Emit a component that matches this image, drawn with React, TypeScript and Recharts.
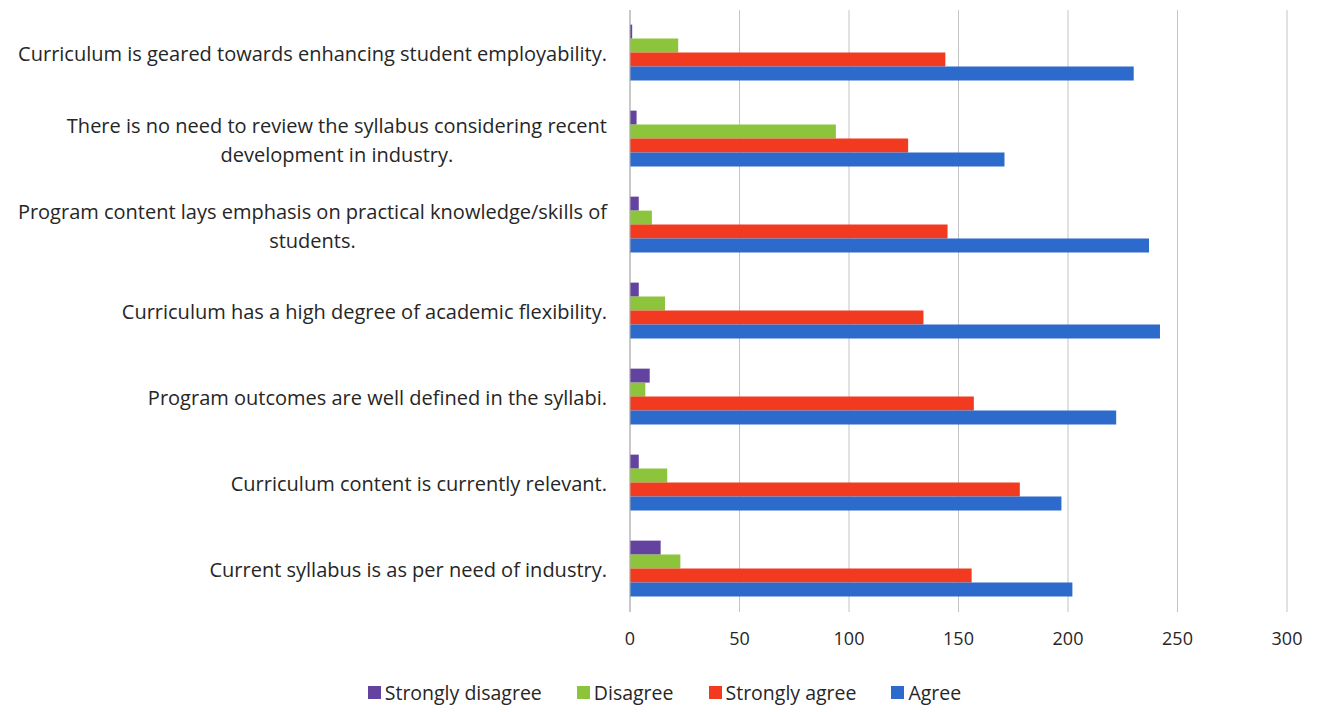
import { BarChart, Bar, XAxis, YAxis, CartesianGrid, Legend } from "recharts";

const categories = [
  "Curriculum is geared towards enhancing student employability.",
  "There is no need to review the syllabus considering recent\ndevelopment in industry.",
  "Program content lays emphasis on practical knowledge/skills of\nstudents.",
  "Curriculum has a high degree of academic flexibility.",
  "Program outcomes are well defined in the syllabi.",
  "Curriculum content is currently relevant.",
  "Current syllabus is as per need of industry.",
];

const stronglyDisagree = [1, 3, 4, 4, 9, 4, 14];
const disagree = [22, 94, 10, 16, 7, 17, 23];
const stronglyAgree = [144, 127, 145, 134, 157, 178, 156];
const agree = [230, 171, 237, 242, 222, 197, 202];

const xTicks = [0, 50, 100, 150, 200, 250, 300];

const series = [
  { key: "stronglyDisagree", name: "Strongly disagree", color: "#6442a0" },
  { key: "disagree", name: "Disagree", color: "#8cc43c" },
  { key: "stronglyAgree", name: "Strongly agree", color: "#f23a20" },
  { key: "agree", name: "Agree", color: "#2c6bcb" },
];

const data = categories.map((category, i) => ({
  category,
  stronglyDisagree: stronglyDisagree[i],
  disagree: disagree[i],
  stronglyAgree: stronglyAgree[i],
  agree: agree[i],
}));

const FONT = '"Open Sans", sans-serif';
const LABEL_SIZE = 20;

let canvasCtx: CanvasRenderingContext2D | null = null;
function textWidth(s: string, size: number) {
  if (!canvasCtx) canvasCtx = document.createElement("canvas").getContext("2d");
  if (!canvasCtx) return s.length * size * 0.5;
  canvasCtx.font = `${size}px "Open Sans"`;
  return canvasCtx.measureText(s).width;
}

function CategoryTick(props: any) {
  const { x, y, payload } = props;
  const lines: string[] = String(payload.value).split("\n");
  const right = x - 23;
  const lineH = 29;
  const w = textWidth(lines[0], LABEL_SIZE);
  const y0 = y - ((lines.length - 1) * lineH) / 2;
  return (
    <text fontFamily={FONT} fontSize={LABEL_SIZE} fill="#262626" dominantBaseline="central">
      {lines.map((line, i) => (
        <tspan
          key={i}
          x={i === 0 ? right : right - w / 2}
          y={y0 + i * lineH}
          textAnchor={i === 0 ? "end" : "middle"}
        >
          {line}
        </tspan>
      ))}
    </text>
  );
}

function LegendContent() {
  return (
    <div
      style={{
        display: "flex",
        justifyContent: "center",
        gap: 35,
        height: 24,
        alignItems: "center",
        fontFamily: FONT,
        fontSize: 19.5,
        color: "#262626",
        paddingLeft: 42,
      }}
    >
      {series.map((s) => (
        <div key={s.key} style={{ display: "flex", alignItems: "center" }}>
          <span style={{ width: 13, height: 13, background: s.color, marginRight: 4, display: "inline-block" }} />
          {s.name}
        </div>
      ))}
    </div>
  );
}

export default function App() {
  return (
    <div style={{ margin: "-8px 0 0 -8px", background: "#fff", width: 1318, height: 712 }}>
      <BarChart
        width={1318}
        height={712}
        data={data}
        layout="vertical"
        margin={{ top: 10, right: 31, left: 0, bottom: 8 }}
        barCategoryGap="17%"
        barGap={0}
      >
        <CartesianGrid horizontal={false} stroke="#c4c4c4" />
        <XAxis
          type="number"
          domain={[0, 300]}
          ticks={xTicks}
          axisLine={false}
          tickLine={false}
          tickSize={0}
          tickMargin={20}
          height={68}
          tick={{ fontFamily: FONT, fontSize: 18, fill: "#262626" }}
        />
        <YAxis
          type="category"
          dataKey="category"
          width={630}
          axisLine={{ stroke: "#b0b0b0" }}
          tickLine={false}
          tickSize={0}
          tickMargin={0}
          tick={<CategoryTick />}
          interval={0}
        />
        <Legend verticalAlign="bottom" content={<LegendContent />} />
        {series.map((s) => (
          <Bar key={s.key} dataKey={s.key} name={s.name} fill={s.color} isAnimationActive={false} />
        ))}
      </BarChart>
    </div>
  );
}
